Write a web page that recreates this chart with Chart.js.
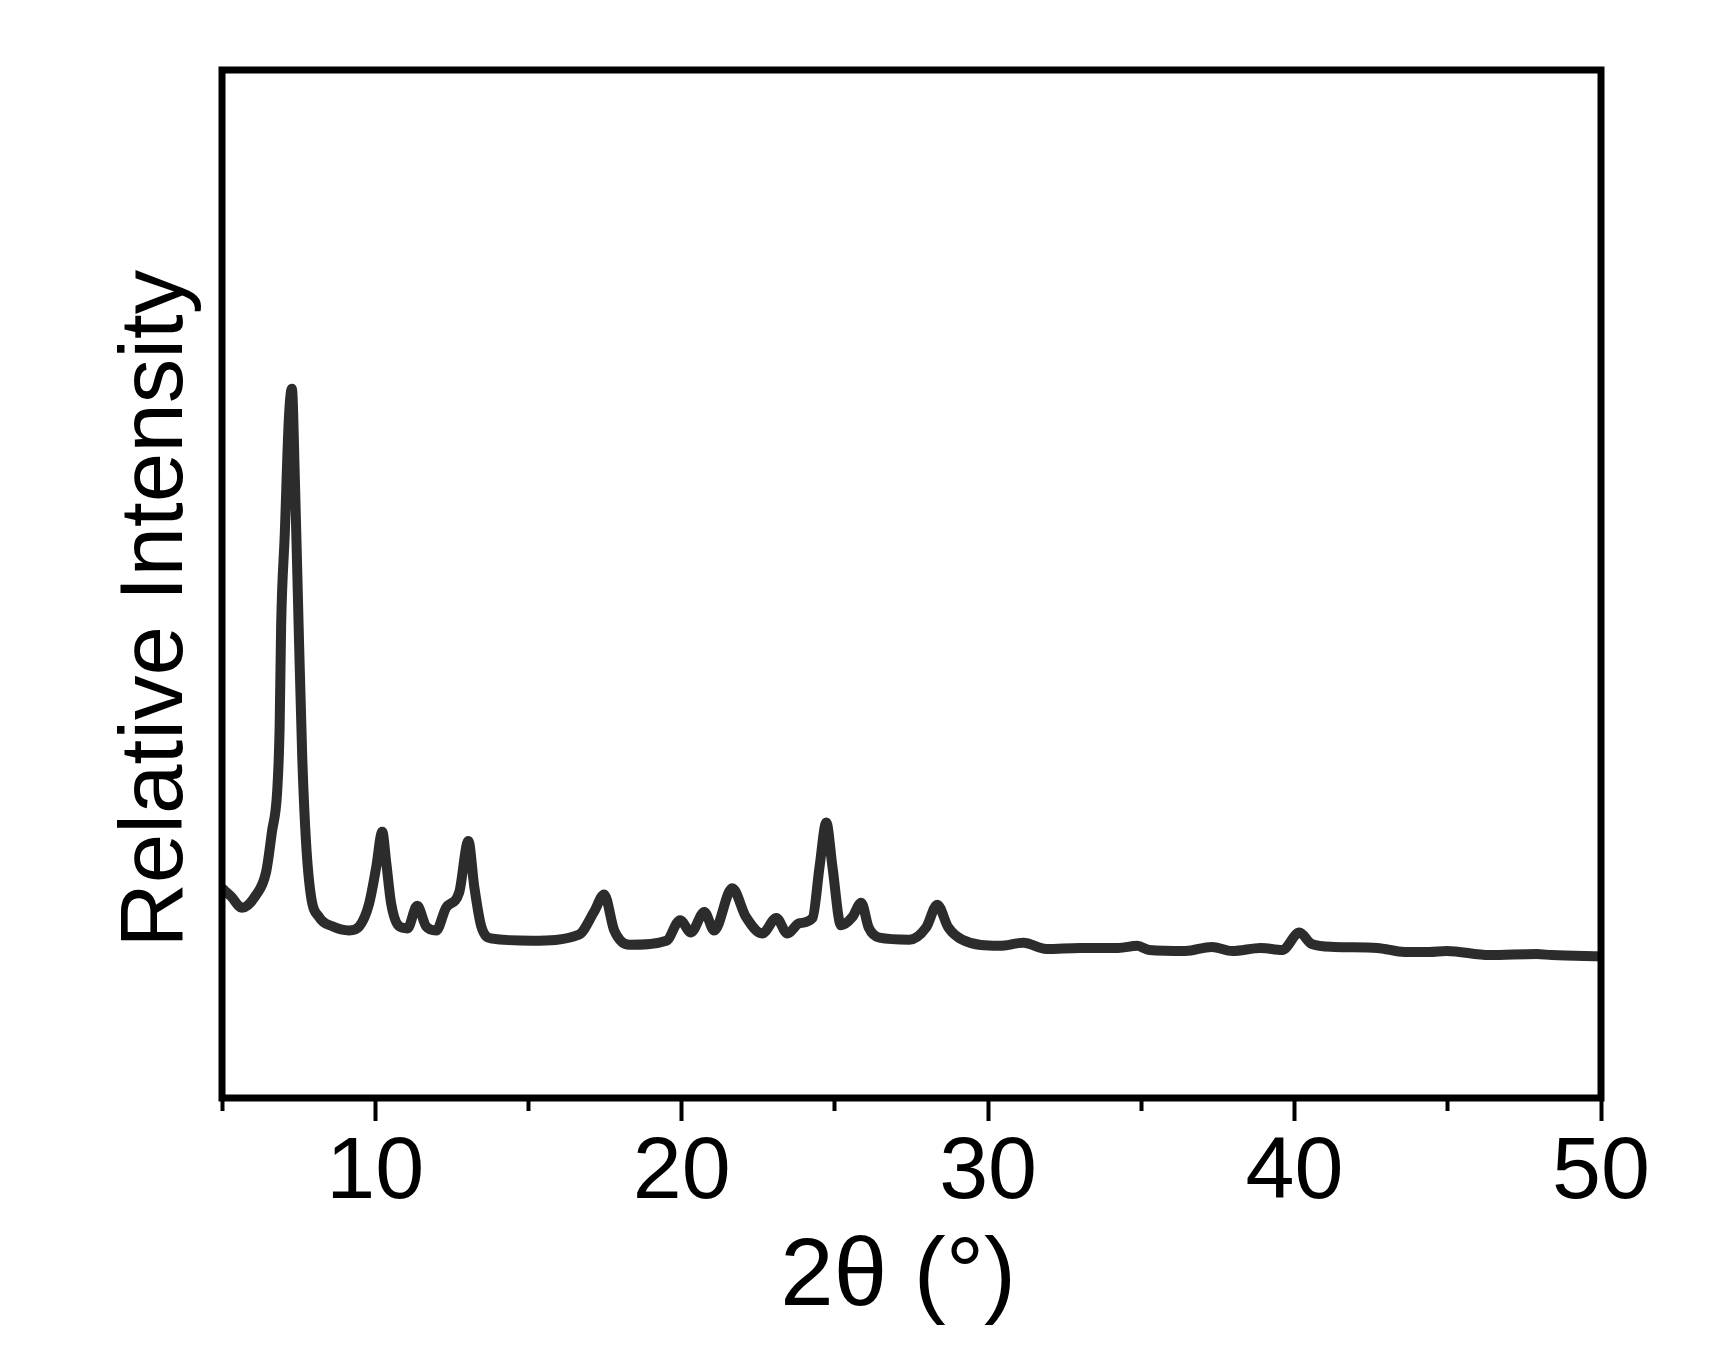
<!DOCTYPE html>
<html>
<head>
<meta charset="utf-8">
<script src="https://cdn.jsdelivr.net/npm/chart.js@4/dist/chart.umd.min.js"></script>
<style>
  html, body { margin: 0; padding: 0; background: #ffffff; }
  #wrap { width: 1734px; height: 1363px; }
</style>
</head>
<body>
<div id="wrap"><canvas id="c" width="1734" height="1363"></canvas></div>
<script>
// 2θ positions (degrees)
const twoTheta = [
  5.0, 5.3, 5.65, 6.1, 6.44, 6.63, 6.8, 6.88, 6.93, 7.05, 7.18, 7.28, 7.38, 7.5, 7.62, 7.74, 7.9,
  8.17, 8.6, 9.15, 9.48, 9.8, 10.03, 10.23, 10.36, 10.52, 10.78, 11.05, 11.37, 11.66, 11.99,
  12.31, 12.74, 13.04, 13.23, 13.46, 13.82, 15.12, 16.65, 17.14, 17.47, 17.8, 18.29, 19.5,
  19.95, 20.3, 20.74, 21.06, 21.65, 22.1, 22.63, 23.09, 23.45, 23.84, 24.27, 24.5, 24.72,
  24.92, 25.2, 25.57, 25.86, 26.1, 26.45, 27.43, 27.98, 28.34, 28.7, 29.16, 30.37, 31.15,
  31.9, 33.0, 34.25, 34.87, 35.26, 36.44, 37.3, 37.97, 38.9, 39.6, 40.16, 40.55, 41.3,
  42.7, 43.6, 44.4, 44.96, 46.36, 47.9, 48.4, 50.0
];
// Relative intensity (arbitrary units)
const intensity = [
  20.4, 19.6, 18.5, 19.7, 22.0, 25.9, 29.8, 36.0, 46.0, 55.0, 66.0, 69.0, 60.0, 46.0, 33.0, 25.0, 19.7,
  17.6, 16.7, 16.3, 16.7, 18.9, 22.4, 25.9, 22.9, 18.9, 16.7, 16.5, 18.7, 16.7, 16.3,
  18.5, 20.0, 25.0, 20.6, 16.7, 15.5, 15.3, 15.9, 18.1, 19.8, 16.3, 14.9, 15.3,
  17.3, 16.1, 18.1, 16.3, 20.4, 17.6, 16.0, 17.5, 16.0, 17.0, 17.5, 22.5, 26.8,
  22.5, 16.8, 17.6, 19.0, 16.6, 15.6, 15.4, 16.6, 18.8, 16.6, 15.4, 14.8, 15.1,
  14.5, 14.6, 14.6, 14.8, 14.4, 14.3, 14.7, 14.3, 14.6, 14.4, 16.1, 15.0, 14.7,
  14.6, 14.2, 14.2, 14.3, 13.9, 14.0, 13.9, 13.8
];
const xTickLabels = [10, 20, 30, 40, 50];
const xLabel = '2θ (°)';
const yLabel = 'Relative Intensity';

const points = twoTheta.map((x, i) => ({ x: x, y: intensity[i] }));

const framePlugin = {
  id: 'frame',
  afterDraw(chart) {
    const a = chart.chartArea;
    const ctx = chart.ctx;
    ctx.save();
    ctx.strokeStyle = '#000';
    ctx.lineWidth = 7;
    ctx.strokeRect(a.left, a.top, a.right - a.left, a.bottom - a.top);
    ctx.restore();
  }
};

const sans = "'Liberation Sans', Arial, sans-serif";

new Chart(document.getElementById('c'), {
  type: 'line',
  data: {
    datasets: [{
      data: points,
      borderColor: '#2c2c2c',
      borderWidth: 10,
      pointRadius: 0,
      fill: false,
      cubicInterpolationMode: 'monotone'
    }]
  },
  options: {
    responsive: false,
    animation: false,
    devicePixelRatio: 1,
    layout: { padding: { left: 0, right: 133, top: 70, bottom: 0 } },
    plugins: { legend: { display: false }, tooltip: { enabled: false } },
    scales: {
      x: {
        type: 'linear',
        min: 5,
        max: 50,
        afterFit(scale) { scale.height = 265; },
        border: { display: false },
        grid: {
          drawOnChartArea: false,
          drawTicks: true,
          tickLength: 23,
          tickWidth: 4,
          tickColor: '#000',
          tickBorderDash: (ctx) => (ctx.tick && xTickLabels.includes(ctx.tick.value)) ? [] : [13, 100]
        },
        ticks: {
          stepSize: 5,
          padding: 0,
          color: '#000',
          font: { family: sans, size: 88 },
          maxRotation: 0,
          autoSkip: false,
          callback: (v) => xTickLabels.includes(v) ? String(v) : ''
        },
        title: {
          display: true,
          text: xLabel + '\u00a0',
          color: '#000',
          font: { family: sans, size: 96 },
          padding: { top: 0, bottom: 27 }
        }
      },
      y: {
        min: 0,
        max: 100,
        afterFit(scale) { scale.width = 222; },
        border: { display: false },
        grid: { display: false },
        ticks: { display: false },
        title: {
          display: true,
          text: yLabel + '\u00a0\u00a0',
          color: '#000',
          font: { family: sans, size: 89 },
          padding: { top: 104, bottom: 0 }
        }
      }
    }
  },
  plugins: [framePlugin]
});
</script>
</body>
</html>
